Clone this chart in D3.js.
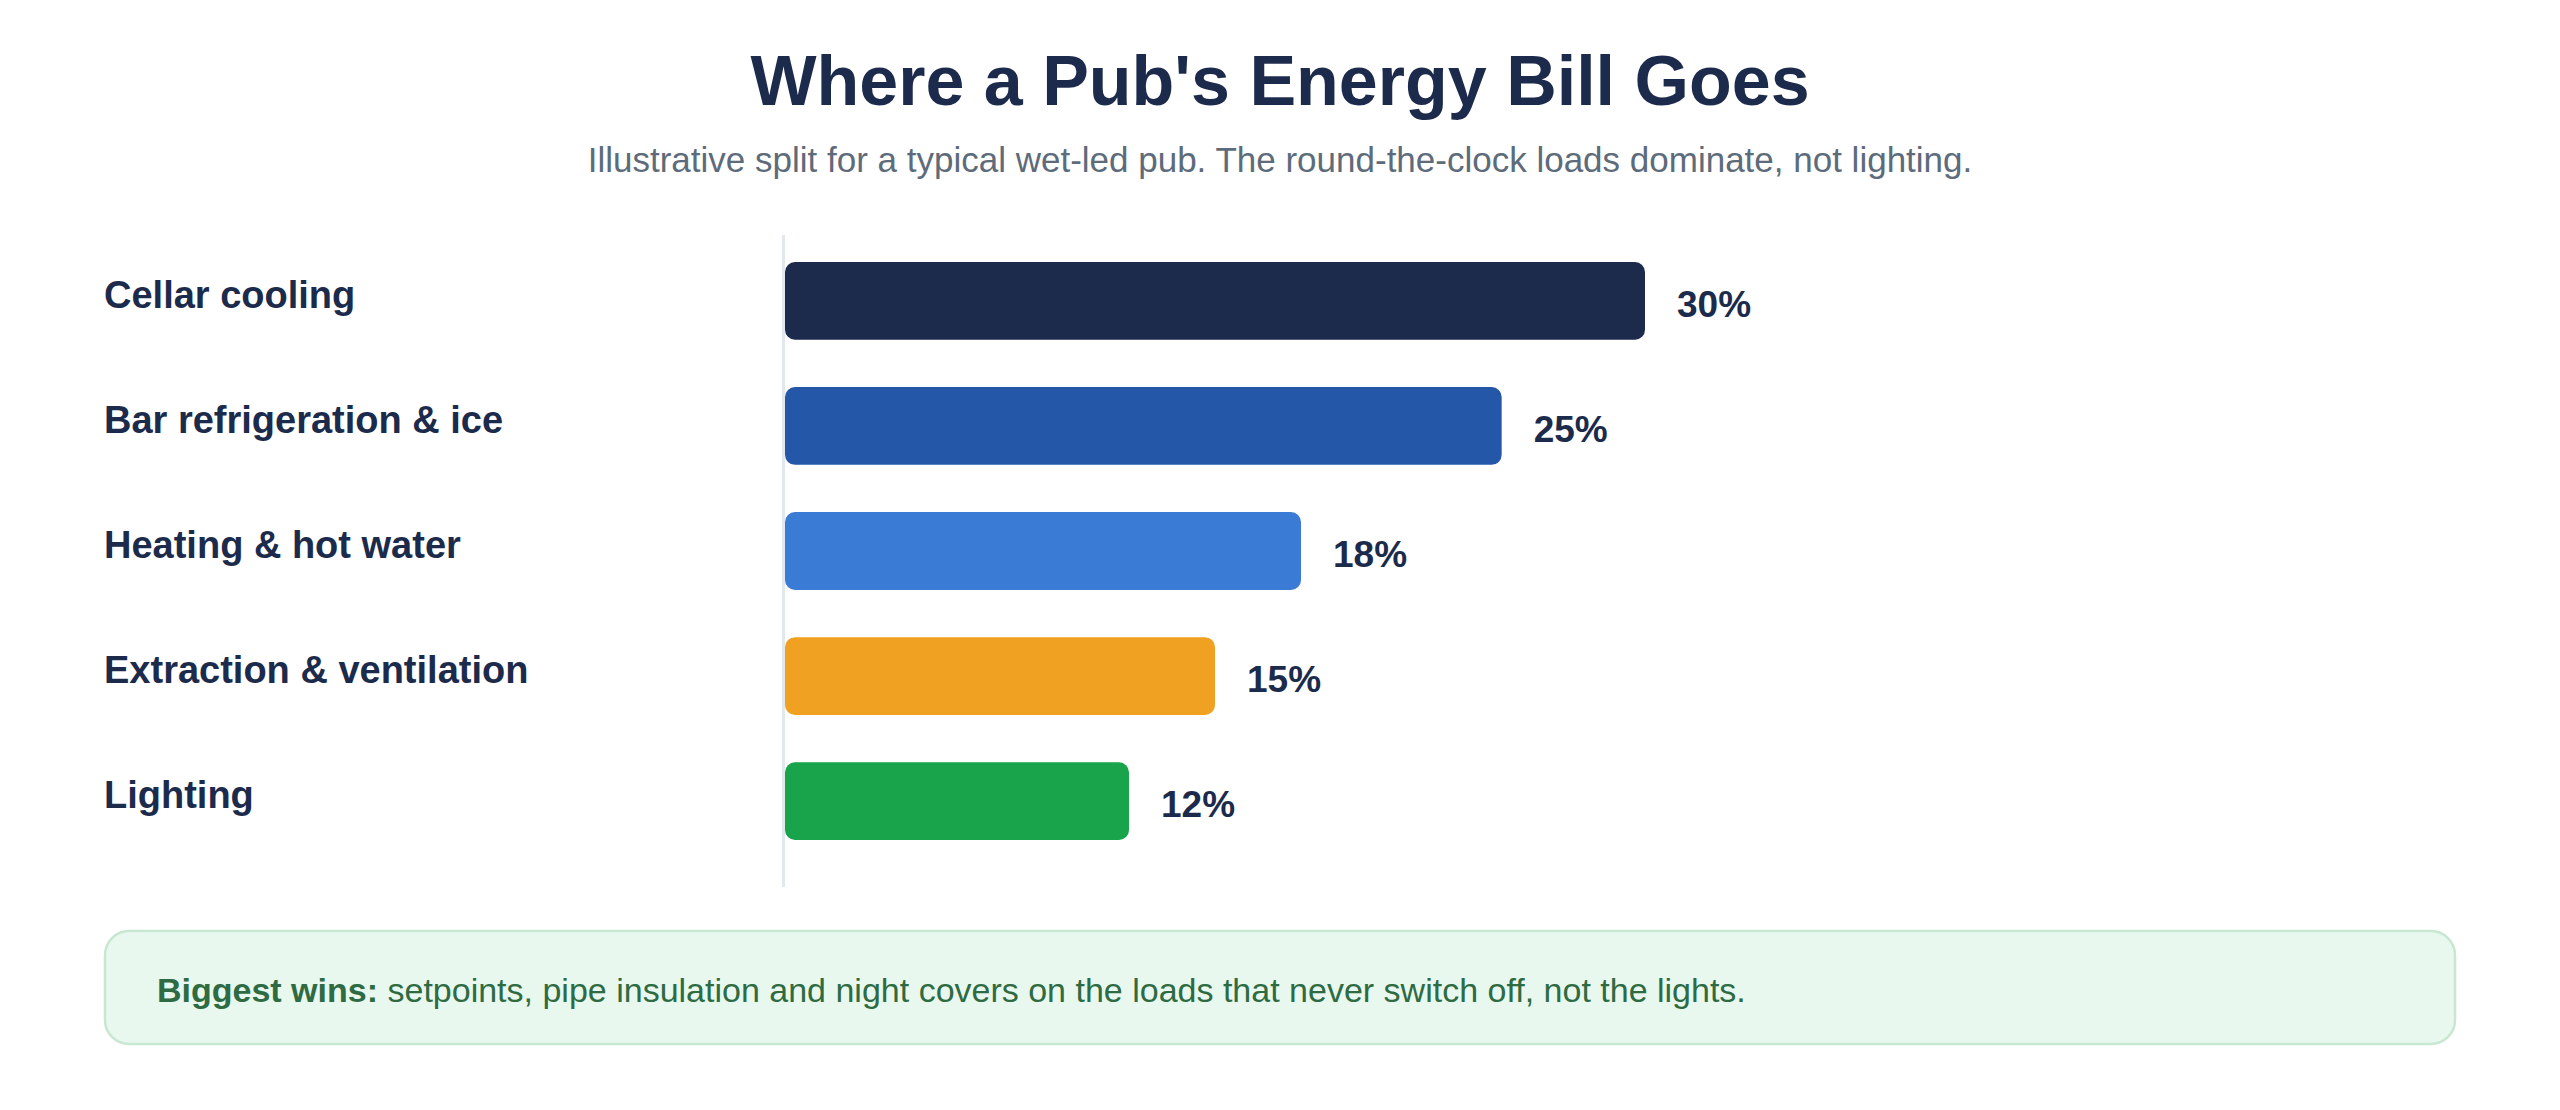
<!DOCTYPE html>
<html>
<head>
<meta charset="utf-8">
<script src="https://cdn.jsdelivr.net/npm/d3@7"></script>
<style>
  body { margin: 0; background: #fff; }
  svg { display: block; font-family: "Liberation Sans", Arial, Helvetica, sans-serif; }
</style>
</head>
<body>
<svg id="chart" width="2560" height="1110"></svg>
<script>
// data
const categories = ["Cellar cooling", "Bar refrigeration & ice", "Heating & hot water", "Extraction & ventilation", "Lighting"]
const shares = [30, 25, 18, 15, 12]
const barColors = ["#1c2b4b", "#2557a8", "#3a7bd5", "#f0a122", "#19a44c"]
const titleText = "Where a Pub's Energy Bill Goes"
const subtitleText = "Illustrative split for a typical wet-led pub. The round-the-clock loads dominate, not lighting."
const noteLead = "Biggest wins:"
const noteText = " setpoints, pipe insulation and night covers on the loads that never switch off, not the lights."

let svg = d3.select("#chart")

let xScale = d3.scaleLinear().domain([0, 30]).range([785, 1645])
let yScale = d3.scaleBand().domain(categories).range([262, 840]).paddingInner(0.378).paddingOuter(0)

// title + subtitle
svg.append("text")
    .attr("x", 1280).attr("y", 105)
    .attr("text-anchor", "middle")
    .style("font-size", "70px").style("font-weight", "bold")
    .attr("fill", "#1c2b4b")
    .text(titleText)

svg.append("text")
    .attr("x", 1280).attr("y", 172)
    .attr("text-anchor", "middle")
    .style("font-size", "35px")
    .attr("fill", "#5d6b7a")
    .text(subtitleText)

// baseline line
svg.append("line")
    .attr("x1", xScale(0) - 1.5).attr("x2", xScale(0) - 1.5)
    .attr("y1", 235).attr("y2", 887)
    .attr("stroke", "#e3e8ef").attr("stroke-width", 3)

// bars
svg.selectAll(".bar")
    .data(categories)
    .enter()
    .append("rect")
    .attr("class", "bar")
    .attr("x", xScale(0))
    .attr("y", d => yScale(d))
    .attr("width", (d, i) => xScale(shares[i]) - xScale(0))
    .attr("height", yScale.bandwidth())
    .attr("rx", 10)
    .attr("fill", (d, i) => barColors[i])

// category labels
svg.selectAll(".cat")
    .data(categories)
    .enter()
    .append("text")
    .attr("class", "cat")
    .attr("x", 104)
    .attr("y", d => yScale(d) + yScale.bandwidth() / 2 + 7)
    .style("font-size", "38px").style("font-weight", "bold")
    .attr("fill", "#1c2b4b")
    .text(d => d)

// value labels
svg.selectAll(".val")
    .data(categories)
    .enter()
    .append("text")
    .attr("class", "val")
    .attr("x", (d, i) => xScale(shares[i]) + 32)
    .attr("y", d => yScale(d) + yScale.bandwidth() / 2 + 16)
    .style("font-size", "37px").style("font-weight", "bold")
    .attr("fill", "#1c2b4b")
    .text((d, i) => shares[i] + "%")

// note box
svg.append("rect")
    .attr("x", 105).attr("y", 931)
    .attr("width", 2350).attr("height", 113)
    .attr("rx", 24)
    .attr("fill", "#e9f8ee")
    .attr("stroke", "#c8e7d2").attr("stroke-width", 2.5)

let note = svg.append("text")
    .attr("x", 157).attr("y", 1002)
    .style("font-size", "34px")
    .attr("fill", "#2e6b42")
note.append("tspan").style("font-weight", "bold").text(noteLead)
note.append("tspan").text(noteText)
</script>
</body>
</html>
